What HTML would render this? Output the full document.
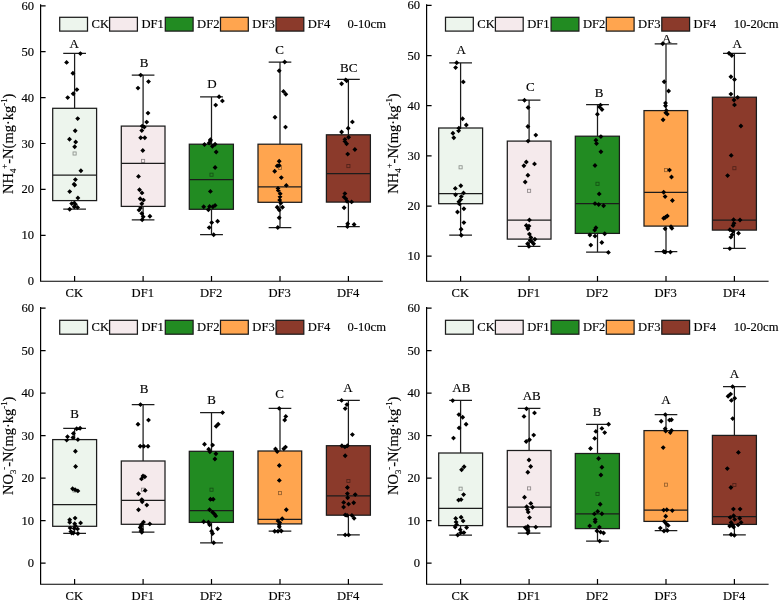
<!DOCTYPE html>
<html lang="en">
<head>
<meta charset="utf-8">
<title>Box plots of NH4+-N and NO3--N by treatment and depth</title>
<style>
html,body{margin:0;padding:0;background:#fff;}
body{width:779px;height:601px;overflow:hidden;}
svg{display:block;}
svg text{font-family:"Liberation Serif", "Times New Roman", serif;font-size:12.6px;fill:#000;stroke:#000;stroke-width:0.15px;}
svg text.t{font-size:12.6px;}
svg text.L{font-size:13px;}
</style>
</head>
<body>
<svg width="779" height="601" viewBox="0 0 779 601">
<rect x="0" y="0" width="779" height="601" fill="#fff"/>
<g><path d="M74.6 53.4V108.3M74.6 200.6V209.1M63.23 53.4H85.97M63.23 209.1H85.97" stroke="#1c1c1c" stroke-width="1.25" fill="none"/>
<rect x="52.7" y="108.3" width="43.9" height="92.3" fill="#EDF5ED" stroke="#1c1c1c" stroke-width="1.25"/>
<path d="M52.7 175.1H96.6" stroke="#1c1c1c" stroke-width="1.25" fill="none"/>
<rect x="73.05" y="151.95" width="3.1" height="3.1" fill="none" stroke="#000" stroke-opacity="0.42" stroke-width="0.85"/>
<path d="M143.1 75.1V126.1M143.1 206.4V219.8M131.77 75.1H154.43M131.77 219.8H154.43" stroke="#1c1c1c" stroke-width="1.25" fill="none"/>
<rect x="121.3" y="126.1" width="43.7" height="80.3" fill="#F5EAEC" stroke="#1c1c1c" stroke-width="1.25"/>
<path d="M121.3 163.4H165" stroke="#1c1c1c" stroke-width="1.25" fill="none"/>
<rect x="141.55" y="159.35" width="3.1" height="3.1" fill="none" stroke="#000" stroke-opacity="0.42" stroke-width="0.85"/>
<path d="M211.5 96.8V144.2M211.5 209.3V234.7M200.07 96.8H222.93M200.07 234.7H222.93" stroke="#1c1c1c" stroke-width="1.25" fill="none"/>
<rect x="189.3" y="144.2" width="44.1" height="65.1" fill="#228B22" stroke="#1c1c1c" stroke-width="1.25"/>
<path d="M189.3 179.6H233.4" stroke="#1c1c1c" stroke-width="1.25" fill="none"/>
<rect x="209.95" y="173.15" width="3.1" height="3.1" fill="none" stroke="#000" stroke-opacity="0.42" stroke-width="0.85"/>
<path d="M280 62V144.2M280 202.3V227.5M268.68 62H291.32M268.68 227.5H291.32" stroke="#1c1c1c" stroke-width="1.25" fill="none"/>
<rect x="258" y="144.2" width="43.7" height="58.1" fill="#FFA54F" stroke="#1c1c1c" stroke-width="1.25"/>
<path d="M258 186.9H301.7" stroke="#1c1c1c" stroke-width="1.25" fill="none"/>
<rect x="278.45" y="166.35" width="3.1" height="3.1" fill="none" stroke="#000" stroke-opacity="0.42" stroke-width="0.85"/>
<path d="M348.4 79.4V134.8M348.4 202.1V226.5M337 79.4H359.8M337 226.5H359.8" stroke="#1c1c1c" stroke-width="1.25" fill="none"/>
<rect x="326.4" y="134.8" width="44" height="67.3" fill="#8B3A2B" stroke="#1c1c1c" stroke-width="1.25"/>
<path d="M326.4 173.6H370.4" stroke="#1c1c1c" stroke-width="1.25" fill="none"/>
<rect x="346.85" y="164.55" width="3.1" height="3.1" fill="none" stroke="#000" stroke-opacity="0.42" stroke-width="0.85"/>
<path d="M80.4 51.15l2.45 2.45l-2.45 2.45l-2.45 -2.45zM66.6 59.95l2.45 2.45l-2.45 2.45l-2.45 -2.45zM72.9 70.75l2.45 2.45l-2.45 2.45l-2.45 -2.45zM76.9 87.15l2.45 2.45l-2.45 2.45l-2.45 -2.45zM73.2 91.35l2.45 2.45l-2.45 2.45l-2.45 -2.45zM67.7 95.15l2.45 2.45l-2.45 2.45l-2.45 -2.45zM77.7 116.15l2.45 2.45l-2.45 2.45l-2.45 -2.45zM75.2 128.25l2.45 2.45l-2.45 2.45l-2.45 -2.45zM69.5 136.85l2.45 2.45l-2.45 2.45l-2.45 -2.45zM75.7 139.55l2.45 2.45l-2.45 2.45l-2.45 -2.45zM74.7 144.25l2.45 2.45l-2.45 2.45l-2.45 -2.45zM80.9 168.25l2.45 2.45l-2.45 2.45l-2.45 -2.45zM75.4 177.15l2.45 2.45l-2.45 2.45l-2.45 -2.45zM74.1 181.75l2.45 2.45l-2.45 2.45l-2.45 -2.45zM74.7 182.65l2.45 2.45l-2.45 2.45l-2.45 -2.45zM69.7 189.15l2.45 2.45l-2.45 2.45l-2.45 -2.45zM77.9 195.45l2.45 2.45l-2.45 2.45l-2.45 -2.45zM71.7 201.15l2.45 2.45l-2.45 2.45l-2.45 -2.45zM74.2 200.65l2.45 2.45l-2.45 2.45l-2.45 -2.45zM75.4 201.85l2.45 2.45l-2.45 2.45l-2.45 -2.45zM77.6 204.95l2.45 2.45l-2.45 2.45l-2.45 -2.45zM74.2 204.35l2.45 2.45l-2.45 2.45l-2.45 -2.45zM69.7 206.85l2.45 2.45l-2.45 2.45l-2.45 -2.45zM140.7 72.65l2.45 2.45l-2.45 2.45l-2.45 -2.45zM148.5 79.15l2.45 2.45l-2.45 2.45l-2.45 -2.45zM138 85.65l2.45 2.45l-2.45 2.45l-2.45 -2.45zM148 110.65l2.45 2.45l-2.45 2.45l-2.45 -2.45zM146.7 119.65l2.45 2.45l-2.45 2.45l-2.45 -2.45zM142.2 123.65l2.45 2.45l-2.45 2.45l-2.45 -2.45zM144.3 124.65l2.45 2.45l-2.45 2.45l-2.45 -2.45zM141.8 128.05l2.45 2.45l-2.45 2.45l-2.45 -2.45zM140.7 135.25l2.45 2.45l-2.45 2.45l-2.45 -2.45zM144.8 135.25l2.45 2.45l-2.45 2.45l-2.45 -2.45zM142.8 148.05l2.45 2.45l-2.45 2.45l-2.45 -2.45zM138.5 173.95l2.45 2.45l-2.45 2.45l-2.45 -2.45zM139.5 187.25l2.45 2.45l-2.45 2.45l-2.45 -2.45zM142 190.45l2.45 2.45l-2.45 2.45l-2.45 -2.45zM140.2 196.35l2.45 2.45l-2.45 2.45l-2.45 -2.45zM143.5 197.65l2.45 2.45l-2.45 2.45l-2.45 -2.45zM141.8 201.35l2.45 2.45l-2.45 2.45l-2.45 -2.45zM140.5 205.65l2.45 2.45l-2.45 2.45l-2.45 -2.45zM139 207.65l2.45 2.45l-2.45 2.45l-2.45 -2.45zM141.8 211.05l2.45 2.45l-2.45 2.45l-2.45 -2.45zM143.2 214.35l2.45 2.45l-2.45 2.45l-2.45 -2.45zM149.9 213.85l2.45 2.45l-2.45 2.45l-2.45 -2.45zM142.2 217.35l2.45 2.45l-2.45 2.45l-2.45 -2.45zM219.1 94.35l2.45 2.45l-2.45 2.45l-2.45 -2.45zM222.4 98.45l2.45 2.45l-2.45 2.45l-2.45 -2.45zM215.7 102.65l2.45 2.45l-2.45 2.45l-2.45 -2.45zM210.4 137.35l2.45 2.45l-2.45 2.45l-2.45 -2.45zM204.5 142.05l2.45 2.45l-2.45 2.45l-2.45 -2.45zM209.1 140.55l2.45 2.45l-2.45 2.45l-2.45 -2.45zM210.4 138.35l2.45 2.45l-2.45 2.45l-2.45 -2.45zM212.4 143.85l2.45 2.45l-2.45 2.45l-2.45 -2.45zM215.1 141.75l2.45 2.45l-2.45 2.45l-2.45 -2.45zM216.2 149.55l2.45 2.45l-2.45 2.45l-2.45 -2.45zM215.1 165.05l2.45 2.45l-2.45 2.45l-2.45 -2.45zM210.4 188.95l2.45 2.45l-2.45 2.45l-2.45 -2.45zM203.7 204.35l2.45 2.45l-2.45 2.45l-2.45 -2.45zM209.6 203.95l2.45 2.45l-2.45 2.45l-2.45 -2.45zM208.4 207.35l2.45 2.45l-2.45 2.45l-2.45 -2.45zM212.9 204.35l2.45 2.45l-2.45 2.45l-2.45 -2.45zM215.1 202.95l2.45 2.45l-2.45 2.45l-2.45 -2.45zM217.6 218.85l2.45 2.45l-2.45 2.45l-2.45 -2.45zM211.7 220.15l2.45 2.45l-2.45 2.45l-2.45 -2.45zM209.2 225.15l2.45 2.45l-2.45 2.45l-2.45 -2.45zM213.7 232.25l2.45 2.45l-2.45 2.45l-2.45 -2.45zM284.7 59.55l2.45 2.45l-2.45 2.45l-2.45 -2.45zM279.2 68.25l2.45 2.45l-2.45 2.45l-2.45 -2.45zM283.5 88.95l2.45 2.45l-2.45 2.45l-2.45 -2.45zM285.8 91.85l2.45 2.45l-2.45 2.45l-2.45 -2.45zM275 114.85l2.45 2.45l-2.45 2.45l-2.45 -2.45zM285.5 124.65l2.45 2.45l-2.45 2.45l-2.45 -2.45zM279.2 158.75l2.45 2.45l-2.45 2.45l-2.45 -2.45zM277.2 163.45l2.45 2.45l-2.45 2.45l-2.45 -2.45zM279.2 162.95l2.45 2.45l-2.45 2.45l-2.45 -2.45zM274.7 168.75l2.45 2.45l-2.45 2.45l-2.45 -2.45zM281.3 175.15l2.45 2.45l-2.45 2.45l-2.45 -2.45zM286.3 182.95l2.45 2.45l-2.45 2.45l-2.45 -2.45zM278 185.95l2.45 2.45l-2.45 2.45l-2.45 -2.45zM278.3 187.95l2.45 2.45l-2.45 2.45l-2.45 -2.45zM280.2 191.35l2.45 2.45l-2.45 2.45l-2.45 -2.45zM280 194.35l2.45 2.45l-2.45 2.45l-2.45 -2.45zM279.7 197.65l2.45 2.45l-2.45 2.45l-2.45 -2.45zM280.8 200.65l2.45 2.45l-2.45 2.45l-2.45 -2.45zM277.2 204.85l2.45 2.45l-2.45 2.45l-2.45 -2.45zM282.5 204.85l2.45 2.45l-2.45 2.45l-2.45 -2.45zM279.3 207.65l2.45 2.45l-2.45 2.45l-2.45 -2.45zM279.2 215.35l2.45 2.45l-2.45 2.45l-2.45 -2.45zM277.8 225.05l2.45 2.45l-2.45 2.45l-2.45 -2.45zM345.7 77.45l2.45 2.45l-2.45 2.45l-2.45 -2.45zM346.6 78.35l2.45 2.45l-2.45 2.45l-2.45 -2.45zM341.6 81.35l2.45 2.45l-2.45 2.45l-2.45 -2.45zM352.4 119.45l2.45 2.45l-2.45 2.45l-2.45 -2.45zM348.2 125.75l2.45 2.45l-2.45 2.45l-2.45 -2.45zM341.6 129.55l2.45 2.45l-2.45 2.45l-2.45 -2.45zM348.6 134.85l2.45 2.45l-2.45 2.45l-2.45 -2.45zM344.9 137.05l2.45 2.45l-2.45 2.45l-2.45 -2.45zM344.9 138.85l2.45 2.45l-2.45 2.45l-2.45 -2.45zM346.6 141.25l2.45 2.45l-2.45 2.45l-2.45 -2.45zM354.9 147.05l2.45 2.45l-2.45 2.45l-2.45 -2.45zM347.7 151.65l2.45 2.45l-2.45 2.45l-2.45 -2.45zM344.9 191.15l2.45 2.45l-2.45 2.45l-2.45 -2.45zM344.1 194.65l2.45 2.45l-2.45 2.45l-2.45 -2.45zM345.7 196.15l2.45 2.45l-2.45 2.45l-2.45 -2.45zM347.1 198.75l2.45 2.45l-2.45 2.45l-2.45 -2.45zM351.6 199.45l2.45 2.45l-2.45 2.45l-2.45 -2.45zM344.1 205.25l2.45 2.45l-2.45 2.45l-2.45 -2.45zM347.7 221.25l2.45 2.45l-2.45 2.45l-2.45 -2.45zM354.1 222.05l2.45 2.45l-2.45 2.45l-2.45 -2.45zM347.4 224.05l2.45 2.45l-2.45 2.45l-2.45 -2.45z" fill="#000"/>
<path d="M40.6 4.9V281.25H382.2" stroke="#000" stroke-width="1.2" fill="none" stroke-linecap="square"/>
<path d="M40.6 235.3h5M40.6 189.4h5M40.6 143.5h5M40.6 97.6h5M40.6 51.7h5M40.6 5.8h5M74.6 281.25v-5.3M143.1 281.25v-5.3M211.5 281.25v-5.3M280 281.25v-5.3M348.4 281.25v-5.3" stroke="#000" stroke-width="1.2" fill="none"/>
<text x="34" y="285.25" text-anchor="end" class="t">0</text>
<text x="34" y="239.3" text-anchor="end" class="t">10</text>
<text x="34" y="193.4" text-anchor="end" class="t">20</text>
<text x="34" y="147.5" text-anchor="end" class="t">30</text>
<text x="34" y="101.6" text-anchor="end" class="t">40</text>
<text x="34" y="55.7" text-anchor="end" class="t">50</text>
<text x="34" y="9.8" text-anchor="end" class="t">60</text>
<text x="74.3" y="297.45" text-anchor="middle" class="t">CK</text>
<text x="142.8" y="297.45" text-anchor="middle" class="t">DF1</text>
<text x="211.2" y="297.45" text-anchor="middle" class="t">DF2</text>
<text x="279.7" y="297.45" text-anchor="middle" class="t">DF3</text>
<text x="348.1" y="297.45" text-anchor="middle" class="t">DF4</text>
<text x="74.2" y="47.8" text-anchor="middle" class="L">A</text>
<text x="144" y="66.5" text-anchor="middle" class="L">B</text>
<text x="212" y="87.9" text-anchor="middle" class="L">D</text>
<text x="279.7" y="54.2" text-anchor="middle" class="L">C</text>
<text x="348.7" y="72.4" text-anchor="middle" class="L">BC</text>
<rect x="59.7" y="17.3" width="27.8" height="13.8" fill="#EDF5ED" stroke="#1c1c1c" stroke-width="1.25"/>
<text x="91.5" y="28">CK</text>
<rect x="109.6" y="17.3" width="27.8" height="13.8" fill="#F5EAEC" stroke="#1c1c1c" stroke-width="1.25"/>
<text x="141.4" y="28">DF1</text>
<rect x="165.3" y="17.3" width="27.8" height="13.8" fill="#228B22" stroke="#1c1c1c" stroke-width="1.25"/>
<text x="197.1" y="28">DF2</text>
<rect x="220.5" y="17.3" width="27.8" height="13.8" fill="#FFA54F" stroke="#1c1c1c" stroke-width="1.25"/>
<text x="252.3" y="28">DF3</text>
<rect x="276" y="17.3" width="27.8" height="13.8" fill="#8B3A2B" stroke="#1c1c1c" stroke-width="1.25"/>
<text x="307.8" y="28">DF4</text>
<text x="347.5" y="28" >0-10cm</text>
<text transform="translate(13,143.8) rotate(-90)" text-anchor="middle" style="font-size:14.5px">NH<tspan font-size="8.7" dy="3.2">4</tspan><tspan font-size="8.7" dy="-9.2">+</tspan><tspan dy="6">-N(mg·kg</tspan><tspan font-size="8.7" dy="-6">-1</tspan><tspan dy="6">)</tspan></text></g>
<g><path d="M460.6 62.8V128M460.6 203.7V235.2M449.23 62.8H471.98M449.23 235.2H471.98" stroke="#1c1c1c" stroke-width="1.25" fill="none"/>
<rect x="438.7" y="128" width="43.9" height="75.7" fill="#EDF5ED" stroke="#1c1c1c" stroke-width="1.25"/>
<path d="M438.7 193.5H482.6" stroke="#1c1c1c" stroke-width="1.25" fill="none"/>
<rect x="459.05" y="165.75" width="3.1" height="3.1" fill="none" stroke="#000" stroke-opacity="0.42" stroke-width="0.85"/>
<path d="M529.1 100.2V141.1M529.1 239.1V246.4M517.78 100.2H540.42M517.78 246.4H540.42" stroke="#1c1c1c" stroke-width="1.25" fill="none"/>
<rect x="507.3" y="141.1" width="43.7" height="98" fill="#F5EAEC" stroke="#1c1c1c" stroke-width="1.25"/>
<path d="M507.3 220H551" stroke="#1c1c1c" stroke-width="1.25" fill="none"/>
<rect x="527.55" y="189.25" width="3.1" height="3.1" fill="none" stroke="#000" stroke-opacity="0.42" stroke-width="0.85"/>
<path d="M597.5 104.7V136.2M597.5 233.4V252.2M586.08 104.7H608.92M586.08 252.2H608.92" stroke="#1c1c1c" stroke-width="1.25" fill="none"/>
<rect x="575.3" y="136.2" width="44.1" height="97.2" fill="#228B22" stroke="#1c1c1c" stroke-width="1.25"/>
<path d="M575.3 203.6H619.4" stroke="#1c1c1c" stroke-width="1.25" fill="none"/>
<rect x="595.95" y="182.25" width="3.1" height="3.1" fill="none" stroke="#000" stroke-opacity="0.42" stroke-width="0.85"/>
<path d="M666 43.8V110.6M666 226.1V251.7M654.68 43.8H677.32M654.68 251.7H677.32" stroke="#1c1c1c" stroke-width="1.25" fill="none"/>
<rect x="644" y="110.6" width="43.7" height="115.5" fill="#FFA54F" stroke="#1c1c1c" stroke-width="1.25"/>
<path d="M644 192.4H687.7" stroke="#1c1c1c" stroke-width="1.25" fill="none"/>
<rect x="664.45" y="168.55" width="3.1" height="3.1" fill="none" stroke="#000" stroke-opacity="0.42" stroke-width="0.85"/>
<path d="M734.4 53.3V97.2M734.4 230.1V248.4M723 53.3H745.8M723 248.4H745.8" stroke="#1c1c1c" stroke-width="1.25" fill="none"/>
<rect x="712.4" y="97.2" width="44" height="132.9" fill="#8B3A2B" stroke="#1c1c1c" stroke-width="1.25"/>
<path d="M712.4 220H756.4" stroke="#1c1c1c" stroke-width="1.25" fill="none"/>
<rect x="732.85" y="166.65" width="3.1" height="3.1" fill="none" stroke="#000" stroke-opacity="0.42" stroke-width="0.85"/>
<path d="M456.7 60.35l2.45 2.45l-2.45 2.45l-2.45 -2.45zM455.6 65.15l2.45 2.45l-2.45 2.45l-2.45 -2.45zM463.3 79.45l2.45 2.45l-2.45 2.45l-2.45 -2.45zM462.6 116.35l2.45 2.45l-2.45 2.45l-2.45 -2.45zM466.3 122.55l2.45 2.45l-2.45 2.45l-2.45 -2.45zM458.9 125.85l2.45 2.45l-2.45 2.45l-2.45 -2.45zM458.6 128.25l2.45 2.45l-2.45 2.45l-2.45 -2.45zM452.9 130.85l2.45 2.45l-2.45 2.45l-2.45 -2.45zM453.8 135.25l2.45 2.45l-2.45 2.45l-2.45 -2.45zM460.8 183.35l2.45 2.45l-2.45 2.45l-2.45 -2.45zM455.3 185.95l2.45 2.45l-2.45 2.45l-2.45 -2.45zM463.5 190.55l2.45 2.45l-2.45 2.45l-2.45 -2.45zM455.6 192.35l2.45 2.45l-2.45 2.45l-2.45 -2.45zM461.3 194.15l2.45 2.45l-2.45 2.45l-2.45 -2.45zM460.8 196.95l2.45 2.45l-2.45 2.45l-2.45 -2.45zM458.9 199.25l2.45 2.45l-2.45 2.45l-2.45 -2.45zM459.5 201.45l2.45 2.45l-2.45 2.45l-2.45 -2.45zM463.9 206.25l2.45 2.45l-2.45 2.45l-2.45 -2.45zM457.5 209.55l2.45 2.45l-2.45 2.45l-2.45 -2.45zM463.9 220.15l2.45 2.45l-2.45 2.45l-2.45 -2.45zM461.1 226.75l2.45 2.45l-2.45 2.45l-2.45 -2.45zM461.3 232.75l2.45 2.45l-2.45 2.45l-2.45 -2.45zM524.5 97.75l2.45 2.45l-2.45 2.45l-2.45 -2.45zM528.1 105.05l2.45 2.45l-2.45 2.45l-2.45 -2.45zM527.9 124.05l2.45 2.45l-2.45 2.45l-2.45 -2.45zM535.8 132.65l2.45 2.45l-2.45 2.45l-2.45 -2.45zM528.1 138.65l2.45 2.45l-2.45 2.45l-2.45 -2.45zM526.3 159.55l2.45 2.45l-2.45 2.45l-2.45 -2.45zM534.5 161.45l2.45 2.45l-2.45 2.45l-2.45 -2.45zM523.9 163.25l2.45 2.45l-2.45 2.45l-2.45 -2.45zM527.9 172.75l2.45 2.45l-2.45 2.45l-2.45 -2.45zM525.2 179.55l2.45 2.45l-2.45 2.45l-2.45 -2.45zM529.4 217.55l2.45 2.45l-2.45 2.45l-2.45 -2.45zM526.3 223.05l2.45 2.45l-2.45 2.45l-2.45 -2.45zM529 223.65l2.45 2.45l-2.45 2.45l-2.45 -2.45zM527.9 226.35l2.45 2.45l-2.45 2.45l-2.45 -2.45zM529.4 231.65l2.45 2.45l-2.45 2.45l-2.45 -2.45zM530.9 234.95l2.45 2.45l-2.45 2.45l-2.45 -2.45zM534.9 236.85l2.45 2.45l-2.45 2.45l-2.45 -2.45zM530.3 238.05l2.45 2.45l-2.45 2.45l-2.45 -2.45zM532.1 239.55l2.45 2.45l-2.45 2.45l-2.45 -2.45zM527.6 241.35l2.45 2.45l-2.45 2.45l-2.45 -2.45zM533.6 241.35l2.45 2.45l-2.45 2.45l-2.45 -2.45zM528.9 243.95l2.45 2.45l-2.45 2.45l-2.45 -2.45zM600.5 102.65l2.45 2.45l-2.45 2.45l-2.45 -2.45zM599.6 104.45l2.45 2.45l-2.45 2.45l-2.45 -2.45zM602 107.05l2.45 2.45l-2.45 2.45l-2.45 -2.45zM597.4 111.75l2.45 2.45l-2.45 2.45l-2.45 -2.45zM600.9 134.15l2.45 2.45l-2.45 2.45l-2.45 -2.45zM595.9 137.75l2.45 2.45l-2.45 2.45l-2.45 -2.45zM596.5 141.05l2.45 2.45l-2.45 2.45l-2.45 -2.45zM600.9 149.35l2.45 2.45l-2.45 2.45l-2.45 -2.45zM595 163.05l2.45 2.45l-2.45 2.45l-2.45 -2.45zM599.2 191.45l2.45 2.45l-2.45 2.45l-2.45 -2.45zM595 201.15l2.45 2.45l-2.45 2.45l-2.45 -2.45zM598.7 202.05l2.45 2.45l-2.45 2.45l-2.45 -2.45zM603.6 203.35l2.45 2.45l-2.45 2.45l-2.45 -2.45zM595.9 225.25l2.45 2.45l-2.45 2.45l-2.45 -2.45zM594.7 227.65l2.45 2.45l-2.45 2.45l-2.45 -2.45zM589.9 232.55l2.45 2.45l-2.45 2.45l-2.45 -2.45zM595 233.65l2.45 2.45l-2.45 2.45l-2.45 -2.45zM604.7 231.35l2.45 2.45l-2.45 2.45l-2.45 -2.45zM601.8 240.05l2.45 2.45l-2.45 2.45l-2.45 -2.45zM590.8 242.65l2.45 2.45l-2.45 2.45l-2.45 -2.45zM608.4 249.95l2.45 2.45l-2.45 2.45l-2.45 -2.45zM662.7 41.35l2.45 2.45l-2.45 2.45l-2.45 -2.45zM664.2 79.25l2.45 2.45l-2.45 2.45l-2.45 -2.45zM668.6 88.55l2.45 2.45l-2.45 2.45l-2.45 -2.45zM665.5 100.65l2.45 2.45l-2.45 2.45l-2.45 -2.45zM665.5 103.35l2.45 2.45l-2.45 2.45l-2.45 -2.45zM666.4 108.15l2.45 2.45l-2.45 2.45l-2.45 -2.45zM667.3 111.65l2.45 2.45l-2.45 2.45l-2.45 -2.45zM665.8 110.35l2.45 2.45l-2.45 2.45l-2.45 -2.45zM663.1 117.25l2.45 2.45l-2.45 2.45l-2.45 -2.45zM669.5 167.65l2.45 2.45l-2.45 2.45l-2.45 -2.45zM671.5 174.55l2.45 2.45l-2.45 2.45l-2.45 -2.45zM663.7 189.75l2.45 2.45l-2.45 2.45l-2.45 -2.45zM665.1 194.15l2.45 2.45l-2.45 2.45l-2.45 -2.45zM672.4 198.05l2.45 2.45l-2.45 2.45l-2.45 -2.45zM663.7 215.75l2.45 2.45l-2.45 2.45l-2.45 -2.45zM665.5 214.85l2.45 2.45l-2.45 2.45l-2.45 -2.45zM667.3 213.55l2.45 2.45l-2.45 2.45l-2.45 -2.45zM671 224.35l2.45 2.45l-2.45 2.45l-2.45 -2.45zM671.9 225.85l2.45 2.45l-2.45 2.45l-2.45 -2.45zM665.1 226.35l2.45 2.45l-2.45 2.45l-2.45 -2.45zM663.7 249.05l2.45 2.45l-2.45 2.45l-2.45 -2.45zM665.5 249.65l2.45 2.45l-2.45 2.45l-2.45 -2.45zM670.4 249.65l2.45 2.45l-2.45 2.45l-2.45 -2.45zM729 50.85l2.45 2.45l-2.45 2.45l-2.45 -2.45zM731.8 53.05l2.45 2.45l-2.45 2.45l-2.45 -2.45zM730.9 74.25l2.45 2.45l-2.45 2.45l-2.45 -2.45zM734.5 77.05l2.45 2.45l-2.45 2.45l-2.45 -2.45zM730.9 91.65l2.45 2.45l-2.45 2.45l-2.45 -2.45zM737.6 94.95l2.45 2.45l-2.45 2.45l-2.45 -2.45zM734 97.55l2.45 2.45l-2.45 2.45l-2.45 -2.45zM734.5 102.45l2.45 2.45l-2.45 2.45l-2.45 -2.45zM740.9 123.55l2.45 2.45l-2.45 2.45l-2.45 -2.45zM731.2 152.95l2.45 2.45l-2.45 2.45l-2.45 -2.45zM727.6 173.15l2.45 2.45l-2.45 2.45l-2.45 -2.45zM733.6 217.25l2.45 2.45l-2.45 2.45l-2.45 -2.45zM740 217.55l2.45 2.45l-2.45 2.45l-2.45 -2.45zM734 220.85l2.45 2.45l-2.45 2.45l-2.45 -2.45zM733.1 223.05l2.45 2.45l-2.45 2.45l-2.45 -2.45zM729.9 227.25l2.45 2.45l-2.45 2.45l-2.45 -2.45zM733.1 228.95l2.45 2.45l-2.45 2.45l-2.45 -2.45zM738.5 230.75l2.45 2.45l-2.45 2.45l-2.45 -2.45zM732.1 232.25l2.45 2.45l-2.45 2.45l-2.45 -2.45zM730.9 234.65l2.45 2.45l-2.45 2.45l-2.45 -2.45zM729.8 246.15l2.45 2.45l-2.45 2.45l-2.45 -2.45z" fill="#000"/>
<path d="M426.6 4.9V281.25H768" stroke="#000" stroke-width="1.2" fill="none" stroke-linecap="square"/>
<path d="M426.6 256.2h5M426.6 206.05h5M426.6 155.9h5M426.6 105.7h5M426.6 55.55h5M426.6 5.4h5M460.6 281.25v-5.3M529.1 281.25v-5.3M597.5 281.25v-5.3M666 281.25v-5.3M734.4 281.25v-5.3" stroke="#000" stroke-width="1.2" fill="none"/>
<text x="420" y="260.2" text-anchor="end" class="t">10</text>
<text x="420" y="210.05" text-anchor="end" class="t">20</text>
<text x="420" y="159.9" text-anchor="end" class="t">30</text>
<text x="420" y="109.7" text-anchor="end" class="t">40</text>
<text x="420" y="59.55" text-anchor="end" class="t">50</text>
<text x="420" y="9.4" text-anchor="end" class="t">60</text>
<text x="460.3" y="297.45" text-anchor="middle" class="t">CK</text>
<text x="528.8" y="297.45" text-anchor="middle" class="t">DF1</text>
<text x="597.2" y="297.45" text-anchor="middle" class="t">DF2</text>
<text x="665.7" y="297.45" text-anchor="middle" class="t">DF3</text>
<text x="734.1" y="297.45" text-anchor="middle" class="t">DF4</text>
<text x="461.1" y="54.2" text-anchor="middle" class="L">A</text>
<text x="530.3" y="90.6" text-anchor="middle" class="L">C</text>
<text x="599" y="97" text-anchor="middle" class="L">B</text>
<text x="666.8" y="43" text-anchor="middle" class="L">A</text>
<text x="737.1" y="47.7" text-anchor="middle" class="L">A</text>
<rect x="445.5" y="17.3" width="27.8" height="13.8" fill="#EDF5ED" stroke="#1c1c1c" stroke-width="1.25"/>
<text x="477.3" y="28">CK</text>
<rect x="495.4" y="17.3" width="27.8" height="13.8" fill="#F5EAEC" stroke="#1c1c1c" stroke-width="1.25"/>
<text x="527.2" y="28">DF1</text>
<rect x="551.1" y="17.3" width="27.8" height="13.8" fill="#228B22" stroke="#1c1c1c" stroke-width="1.25"/>
<text x="582.9" y="28">DF2</text>
<rect x="606.3" y="17.3" width="27.8" height="13.8" fill="#FFA54F" stroke="#1c1c1c" stroke-width="1.25"/>
<text x="638.1" y="28">DF3</text>
<rect x="661.8" y="17.3" width="27.8" height="13.8" fill="#8B3A2B" stroke="#1c1c1c" stroke-width="1.25"/>
<text x="693.6" y="28">DF4</text>
<text x="733.7" y="28" >10-20cm</text>
<text transform="translate(398,143.5) rotate(-90)" text-anchor="middle" style="font-size:14.5px">NH<tspan font-size="8.7" dy="3.2">4</tspan><tspan font-size="8.7" dy="-9.2">+</tspan><tspan dy="6">-N(mg·kg</tspan><tspan font-size="8.7" dy="-6">-1</tspan><tspan dy="6">)</tspan></text></g>
<g><path d="M74.6 428.3V439.6M74.6 526.3V533.3M63.23 428.3H85.97M63.23 533.3H85.97" stroke="#1c1c1c" stroke-width="1.25" fill="none"/>
<rect x="52.7" y="439.6" width="43.9" height="86.7" fill="#EDF5ED" stroke="#1c1c1c" stroke-width="1.25"/>
<path d="M52.7 504.6H96.6" stroke="#1c1c1c" stroke-width="1.25" fill="none"/>
<rect x="73.05" y="488.95" width="3.1" height="3.1" fill="none" stroke="#000" stroke-opacity="0.42" stroke-width="0.85"/>
<path d="M143.1 404.6V461M143.1 524.3V532.1M131.77 404.6H154.43M131.77 532.1H154.43" stroke="#1c1c1c" stroke-width="1.25" fill="none"/>
<rect x="121.3" y="461" width="43.7" height="63.3" fill="#F5EAEC" stroke="#1c1c1c" stroke-width="1.25"/>
<path d="M121.3 500.4H165" stroke="#1c1c1c" stroke-width="1.25" fill="none"/>
<rect x="141.55" y="488.15" width="3.1" height="3.1" fill="none" stroke="#000" stroke-opacity="0.42" stroke-width="0.85"/>
<path d="M211.5 412.6V451.3M211.5 522.4V542.8M200.07 412.6H222.93M200.07 542.8H222.93" stroke="#1c1c1c" stroke-width="1.25" fill="none"/>
<rect x="189.3" y="451.3" width="44.1" height="71.1" fill="#228B22" stroke="#1c1c1c" stroke-width="1.25"/>
<path d="M189.3 510.6H233.4" stroke="#1c1c1c" stroke-width="1.25" fill="none"/>
<rect x="209.95" y="488.15" width="3.1" height="3.1" fill="none" stroke="#000" stroke-opacity="0.42" stroke-width="0.85"/>
<path d="M280 408.4V451M280 523.9V531.1M268.68 408.4H291.32M268.68 531.1H291.32" stroke="#1c1c1c" stroke-width="1.25" fill="none"/>
<rect x="258" y="451" width="43.7" height="72.9" fill="#FFA54F" stroke="#1c1c1c" stroke-width="1.25"/>
<path d="M258 519.3H301.7" stroke="#1c1c1c" stroke-width="1.25" fill="none"/>
<rect x="278.45" y="491.55" width="3.1" height="3.1" fill="none" stroke="#000" stroke-opacity="0.42" stroke-width="0.85"/>
<path d="M348.4 400.4V445.7M348.4 515.2V534.9M337 400.4H359.8M337 534.9H359.8" stroke="#1c1c1c" stroke-width="1.25" fill="none"/>
<rect x="326.4" y="445.7" width="44" height="69.5" fill="#8B3A2B" stroke="#1c1c1c" stroke-width="1.25"/>
<path d="M326.4 495.9H370.4" stroke="#1c1c1c" stroke-width="1.25" fill="none"/>
<rect x="346.85" y="479.45" width="3.1" height="3.1" fill="none" stroke="#000" stroke-opacity="0.42" stroke-width="0.85"/>
<path d="M80.1 425.85l2.45 2.45l-2.45 2.45l-2.45 -2.45zM76.7 426.35l2.45 2.45l-2.45 2.45l-2.45 -2.45zM73.4 430.95l2.45 2.45l-2.45 2.45l-2.45 -2.45zM67.5 434.35l2.45 2.45l-2.45 2.45l-2.45 -2.45zM72.9 435.15l2.45 2.45l-2.45 2.45l-2.45 -2.45zM66.7 437.65l2.45 2.45l-2.45 2.45l-2.45 -2.45zM77.9 437.15l2.45 2.45l-2.45 2.45l-2.45 -2.45zM75.4 448.85l2.45 2.45l-2.45 2.45l-2.45 -2.45zM75.6 464.05l2.45 2.45l-2.45 2.45l-2.45 -2.45zM72.6 486.25l2.45 2.45l-2.45 2.45l-2.45 -2.45zM75.1 487.25l2.45 2.45l-2.45 2.45l-2.45 -2.45zM77.9 488.45l2.45 2.45l-2.45 2.45l-2.45 -2.45zM75.1 515.65l2.45 2.45l-2.45 2.45l-2.45 -2.45zM69.7 517.35l2.45 2.45l-2.45 2.45l-2.45 -2.45zM69.7 519.85l2.45 2.45l-2.45 2.45l-2.45 -2.45zM80.6 520.45l2.45 2.45l-2.45 2.45l-2.45 -2.45zM74.7 521.35l2.45 2.45l-2.45 2.45l-2.45 -2.45zM75.4 523.45l2.45 2.45l-2.45 2.45l-2.45 -2.45zM70.1 525.45l2.45 2.45l-2.45 2.45l-2.45 -2.45zM74.2 525.95l2.45 2.45l-2.45 2.45l-2.45 -2.45zM77.6 526.45l2.45 2.45l-2.45 2.45l-2.45 -2.45zM70.9 529.05l2.45 2.45l-2.45 2.45l-2.45 -2.45zM73.4 530.55l2.45 2.45l-2.45 2.45l-2.45 -2.45zM77.9 531.05l2.45 2.45l-2.45 2.45l-2.45 -2.45zM71.7 530.55l2.45 2.45l-2.45 2.45l-2.45 -2.45zM140.5 402.15l2.45 2.45l-2.45 2.45l-2.45 -2.45zM148.5 417.65l2.45 2.45l-2.45 2.45l-2.45 -2.45zM138 421.85l2.45 2.45l-2.45 2.45l-2.45 -2.45zM140.2 443.85l2.45 2.45l-2.45 2.45l-2.45 -2.45zM143.8 443.85l2.45 2.45l-2.45 2.45l-2.45 -2.45zM148 443.85l2.45 2.45l-2.45 2.45l-2.45 -2.45zM143 473.45l2.45 2.45l-2.45 2.45l-2.45 -2.45zM144.8 474.25l2.45 2.45l-2.45 2.45l-2.45 -2.45zM141.5 476.45l2.45 2.45l-2.45 2.45l-2.45 -2.45zM145.2 487.95l2.45 2.45l-2.45 2.45l-2.45 -2.45zM138.5 491.25l2.45 2.45l-2.45 2.45l-2.45 -2.45zM141.8 497.15l2.45 2.45l-2.45 2.45l-2.45 -2.45zM142.2 499.25l2.45 2.45l-2.45 2.45l-2.45 -2.45zM146.8 502.65l2.45 2.45l-2.45 2.45l-2.45 -2.45zM138.5 507.25l2.45 2.45l-2.45 2.45l-2.45 -2.45zM143.5 519.65l2.45 2.45l-2.45 2.45l-2.45 -2.45zM149.8 521.45l2.45 2.45l-2.45 2.45l-2.45 -2.45zM141.8 521.85l2.45 2.45l-2.45 2.45l-2.45 -2.45zM141 523.45l2.45 2.45l-2.45 2.45l-2.45 -2.45zM140.2 525.15l2.45 2.45l-2.45 2.45l-2.45 -2.45zM141.5 526.85l2.45 2.45l-2.45 2.45l-2.45 -2.45zM141 528.55l2.45 2.45l-2.45 2.45l-2.45 -2.45zM141.8 529.85l2.45 2.45l-2.45 2.45l-2.45 -2.45zM222.6 410.15l2.45 2.45l-2.45 2.45l-2.45 -2.45zM218.2 421.85l2.45 2.45l-2.45 2.45l-2.45 -2.45zM216.2 423.85l2.45 2.45l-2.45 2.45l-2.45 -2.45zM204.5 441.85l2.45 2.45l-2.45 2.45l-2.45 -2.45zM212.6 442.65l2.45 2.45l-2.45 2.45l-2.45 -2.45zM208.7 446.85l2.45 2.45l-2.45 2.45l-2.45 -2.45zM209.9 449.35l2.45 2.45l-2.45 2.45l-2.45 -2.45zM215.9 451.35l2.45 2.45l-2.45 2.45l-2.45 -2.45zM214.9 456.55l2.45 2.45l-2.45 2.45l-2.45 -2.45zM210.4 496.75l2.45 2.45l-2.45 2.45l-2.45 -2.45zM213.2 496.75l2.45 2.45l-2.45 2.45l-2.45 -2.45zM209.6 507.25l2.45 2.45l-2.45 2.45l-2.45 -2.45zM212.6 509.85l2.45 2.45l-2.45 2.45l-2.45 -2.45zM214.6 511.85l2.45 2.45l-2.45 2.45l-2.45 -2.45zM215.7 513.45l2.45 2.45l-2.45 2.45l-2.45 -2.45zM203.7 519.35l2.45 2.45l-2.45 2.45l-2.45 -2.45zM208.4 519.85l2.45 2.45l-2.45 2.45l-2.45 -2.45zM209.6 522.35l2.45 2.45l-2.45 2.45l-2.45 -2.45zM217.6 526.35l2.45 2.45l-2.45 2.45l-2.45 -2.45zM211.6 528.85l2.45 2.45l-2.45 2.45l-2.45 -2.45zM212.6 531.05l2.45 2.45l-2.45 2.45l-2.45 -2.45zM213.7 540.35l2.45 2.45l-2.45 2.45l-2.45 -2.45zM279.2 405.95l2.45 2.45l-2.45 2.45l-2.45 -2.45zM285.8 413.95l2.45 2.45l-2.45 2.45l-2.45 -2.45zM284.7 417.65l2.45 2.45l-2.45 2.45l-2.45 -2.45zM285.5 444.65l2.45 2.45l-2.45 2.45l-2.45 -2.45zM283.8 446.35l2.45 2.45l-2.45 2.45l-2.45 -2.45zM275.5 446.55l2.45 2.45l-2.45 2.45l-2.45 -2.45zM277.2 449.05l2.45 2.45l-2.45 2.45l-2.45 -2.45zM279.3 463.05l2.45 2.45l-2.45 2.45l-2.45 -2.45zM279.3 477.95l2.45 2.45l-2.45 2.45l-2.45 -2.45zM286.3 507.25l2.45 2.45l-2.45 2.45l-2.45 -2.45zM282.2 516.35l2.45 2.45l-2.45 2.45l-2.45 -2.45zM278 518.45l2.45 2.45l-2.45 2.45l-2.45 -2.45zM279.7 520.15l2.45 2.45l-2.45 2.45l-2.45 -2.45zM279.2 522.35l2.45 2.45l-2.45 2.45l-2.45 -2.45zM279.3 524.35l2.45 2.45l-2.45 2.45l-2.45 -2.45zM274.7 528.85l2.45 2.45l-2.45 2.45l-2.45 -2.45zM278 528.85l2.45 2.45l-2.45 2.45l-2.45 -2.45zM281.3 528.55l2.45 2.45l-2.45 2.45l-2.45 -2.45zM341.6 397.95l2.45 2.45l-2.45 2.45l-2.45 -2.45zM346.9 402.15l2.45 2.45l-2.45 2.45l-2.45 -2.45zM345.2 406.15l2.45 2.45l-2.45 2.45l-2.45 -2.45zM352.4 432.15l2.45 2.45l-2.45 2.45l-2.45 -2.45zM341.9 443.25l2.45 2.45l-2.45 2.45l-2.45 -2.45zM344.9 444.45l2.45 2.45l-2.45 2.45l-2.45 -2.45zM347.4 443.25l2.45 2.45l-2.45 2.45l-2.45 -2.45zM345.2 453.25l2.45 2.45l-2.45 2.45l-2.45 -2.45zM347.4 485.05l2.45 2.45l-2.45 2.45l-2.45 -2.45zM347.4 491.15l2.45 2.45l-2.45 2.45l-2.45 -2.45zM355.2 492.15l2.45 2.45l-2.45 2.45l-2.45 -2.45zM347.7 495.35l2.45 2.45l-2.45 2.45l-2.45 -2.45zM343.7 499.95l2.45 2.45l-2.45 2.45l-2.45 -2.45zM353.7 500.35l2.45 2.45l-2.45 2.45l-2.45 -2.45zM348.6 501.65l2.45 2.45l-2.45 2.45l-2.45 -2.45zM343.6 504.65l2.45 2.45l-2.45 2.45l-2.45 -2.45zM345.2 512.45l2.45 2.45l-2.45 2.45l-2.45 -2.45zM347.1 512.95l2.45 2.45l-2.45 2.45l-2.45 -2.45zM351.9 512.95l2.45 2.45l-2.45 2.45l-2.45 -2.45zM354.1 515.75l2.45 2.45l-2.45 2.45l-2.45 -2.45zM345.2 532.45l2.45 2.45l-2.45 2.45l-2.45 -2.45zM348.6 532.45l2.45 2.45l-2.45 2.45l-2.45 -2.45z" fill="#000"/>
<path d="M40.6 307.5V584.25H382.2" stroke="#000" stroke-width="1.2" fill="none" stroke-linecap="square"/>
<path d="M40.6 563.2h5M40.6 520.7h5M40.6 478.2h5M40.6 435.7h5M40.6 393.2h5M40.6 350.6h5M40.6 308.1h5M74.6 584.25v-5.3M143.1 584.25v-5.3M211.5 584.25v-5.3M280 584.25v-5.3M348.4 584.25v-5.3" stroke="#000" stroke-width="1.2" fill="none"/>
<text x="34" y="567.2" text-anchor="end" class="t">0</text>
<text x="34" y="524.7" text-anchor="end" class="t">10</text>
<text x="34" y="482.2" text-anchor="end" class="t">20</text>
<text x="34" y="439.7" text-anchor="end" class="t">30</text>
<text x="34" y="397.2" text-anchor="end" class="t">40</text>
<text x="34" y="354.6" text-anchor="end" class="t">50</text>
<text x="34" y="312.1" text-anchor="end" class="t">60</text>
<text x="74.3" y="600.45" text-anchor="middle" class="t">CK</text>
<text x="142.8" y="600.45" text-anchor="middle" class="t">DF1</text>
<text x="211.2" y="600.45" text-anchor="middle" class="t">DF2</text>
<text x="279.7" y="600.45" text-anchor="middle" class="t">DF3</text>
<text x="348.1" y="600.45" text-anchor="middle" class="t">DF4</text>
<text x="74.6" y="418.2" text-anchor="middle" class="L">B</text>
<text x="144" y="393.3" text-anchor="middle" class="L">B</text>
<text x="211.7" y="403.7" text-anchor="middle" class="L">B</text>
<text x="279.7" y="398.2" text-anchor="middle" class="L">C</text>
<text x="347.9" y="392.4" text-anchor="middle" class="L">A</text>
<rect x="59.7" y="320.3" width="27.8" height="13.9" fill="#EDF5ED" stroke="#1c1c1c" stroke-width="1.25"/>
<text x="91.5" y="331.1">CK</text>
<rect x="109.6" y="320.3" width="27.8" height="13.9" fill="#F5EAEC" stroke="#1c1c1c" stroke-width="1.25"/>
<text x="141.4" y="331.1">DF1</text>
<rect x="165.3" y="320.3" width="27.8" height="13.9" fill="#228B22" stroke="#1c1c1c" stroke-width="1.25"/>
<text x="197.1" y="331.1">DF2</text>
<rect x="220.5" y="320.3" width="27.8" height="13.9" fill="#FFA54F" stroke="#1c1c1c" stroke-width="1.25"/>
<text x="252.3" y="331.1">DF3</text>
<rect x="276" y="320.3" width="27.8" height="13.9" fill="#8B3A2B" stroke="#1c1c1c" stroke-width="1.25"/>
<text x="307.8" y="331.1">DF4</text>
<text x="347.5" y="331.1" >0-10cm</text>
<text transform="translate(13,445.8) rotate(-90)" text-anchor="middle" style="font-size:14.5px">NO<tspan font-size="8.7" dy="3.2">3</tspan><tspan font-size="8.7" dy="-9.2">-</tspan><tspan dy="6">-N(mg·kg</tspan><tspan font-size="8.7" dy="-6">-1</tspan><tspan dy="6">)</tspan></text></g>
<g><path d="M460.6 400.4V453M460.6 525.6V535M449.23 400.4H471.98M449.23 535H471.98" stroke="#1c1c1c" stroke-width="1.25" fill="none"/>
<rect x="438.7" y="453" width="43.9" height="72.6" fill="#EDF5ED" stroke="#1c1c1c" stroke-width="1.25"/>
<path d="M438.7 508.4H482.6" stroke="#1c1c1c" stroke-width="1.25" fill="none"/>
<rect x="459.05" y="487.15" width="3.1" height="3.1" fill="none" stroke="#000" stroke-opacity="0.42" stroke-width="0.85"/>
<path d="M529.1 408.4V450.5M529.1 526.8V533M517.78 408.4H540.42M517.78 533H540.42" stroke="#1c1c1c" stroke-width="1.25" fill="none"/>
<rect x="507.3" y="450.5" width="43.7" height="76.3" fill="#F5EAEC" stroke="#1c1c1c" stroke-width="1.25"/>
<path d="M507.3 507.1H551" stroke="#1c1c1c" stroke-width="1.25" fill="none"/>
<rect x="527.55" y="486.85" width="3.1" height="3.1" fill="none" stroke="#000" stroke-opacity="0.42" stroke-width="0.85"/>
<path d="M597.5 424.3V453.5M597.5 528.6V541.1M586.08 424.3H608.92M586.08 541.1H608.92" stroke="#1c1c1c" stroke-width="1.25" fill="none"/>
<rect x="575.3" y="453.5" width="44.1" height="75.1" fill="#228B22" stroke="#1c1c1c" stroke-width="1.25"/>
<path d="M575.3 513.8H619.4" stroke="#1c1c1c" stroke-width="1.25" fill="none"/>
<rect x="595.95" y="492.35" width="3.1" height="3.1" fill="none" stroke="#000" stroke-opacity="0.42" stroke-width="0.85"/>
<path d="M666 414.6V430.6M666 521.4V530.6M654.68 414.6H677.32M654.68 530.6H677.32" stroke="#1c1c1c" stroke-width="1.25" fill="none"/>
<rect x="644" y="430.6" width="43.7" height="90.8" fill="#FFA54F" stroke="#1c1c1c" stroke-width="1.25"/>
<path d="M644 510.1H687.7" stroke="#1c1c1c" stroke-width="1.25" fill="none"/>
<rect x="664.45" y="483.15" width="3.1" height="3.1" fill="none" stroke="#000" stroke-opacity="0.42" stroke-width="0.85"/>
<path d="M734.4 386.6V435.4M734.4 524.4V534.9M723 386.6H745.8M723 534.9H745.8" stroke="#1c1c1c" stroke-width="1.25" fill="none"/>
<rect x="712.4" y="435.4" width="44" height="89" fill="#8B3A2B" stroke="#1c1c1c" stroke-width="1.25"/>
<path d="M712.4 516.6H756.4" stroke="#1c1c1c" stroke-width="1.25" fill="none"/>
<rect x="732.85" y="483.45" width="3.1" height="3.1" fill="none" stroke="#000" stroke-opacity="0.42" stroke-width="0.85"/>
<path d="M452.7 398.15l2.45 2.45l-2.45 2.45l-2.45 -2.45zM458.9 412.15l2.45 2.45l-2.45 2.45l-2.45 -2.45zM462.7 414.75l2.45 2.45l-2.45 2.45l-2.45 -2.45zM466.1 421.85l2.45 2.45l-2.45 2.45l-2.45 -2.45zM459.1 425.45l2.45 2.45l-2.45 2.45l-2.45 -2.45zM453.5 435.65l2.45 2.45l-2.45 2.45l-2.45 -2.45zM464.1 464.35l2.45 2.45l-2.45 2.45l-2.45 -2.45zM461.6 467.25l2.45 2.45l-2.45 2.45l-2.45 -2.45zM463.6 492.15l2.45 2.45l-2.45 2.45l-2.45 -2.45zM458.6 497.65l2.45 2.45l-2.45 2.45l-2.45 -2.45zM461.1 497.15l2.45 2.45l-2.45 2.45l-2.45 -2.45zM461.1 514.85l2.45 2.45l-2.45 2.45l-2.45 -2.45zM455.7 515.95l2.45 2.45l-2.45 2.45l-2.45 -2.45zM463.1 518.45l2.45 2.45l-2.45 2.45l-2.45 -2.45zM456.1 519.65l2.45 2.45l-2.45 2.45l-2.45 -2.45zM456.6 522.15l2.45 2.45l-2.45 2.45l-2.45 -2.45zM455.2 524.65l2.45 2.45l-2.45 2.45l-2.45 -2.45zM466.6 525.15l2.45 2.45l-2.45 2.45l-2.45 -2.45zM460.2 527.35l2.45 2.45l-2.45 2.45l-2.45 -2.45zM463.9 530.15l2.45 2.45l-2.45 2.45l-2.45 -2.45zM460.7 530.15l2.45 2.45l-2.45 2.45l-2.45 -2.45zM457.7 532.55l2.45 2.45l-2.45 2.45l-2.45 -2.45zM526.5 406.25l2.45 2.45l-2.45 2.45l-2.45 -2.45zM534.5 410.45l2.45 2.45l-2.45 2.45l-2.45 -2.45zM524 413.95l2.45 2.45l-2.45 2.45l-2.45 -2.45zM533.7 432.65l2.45 2.45l-2.45 2.45l-2.45 -2.45zM529.5 437.35l2.45 2.45l-2.45 2.45l-2.45 -2.45zM526.2 439.05l2.45 2.45l-2.45 2.45l-2.45 -2.45zM529 457.55l2.45 2.45l-2.45 2.45l-2.45 -2.45zM530.7 464.05l2.45 2.45l-2.45 2.45l-2.45 -2.45zM527.8 469.75l2.45 2.45l-2.45 2.45l-2.45 -2.45zM524.5 494.75l2.45 2.45l-2.45 2.45l-2.45 -2.45zM530.8 500.95l2.45 2.45l-2.45 2.45l-2.45 -2.45zM526.7 504.25l2.45 2.45l-2.45 2.45l-2.45 -2.45zM532.5 504.75l2.45 2.45l-2.45 2.45l-2.45 -2.45zM527.5 507.15l2.45 2.45l-2.45 2.45l-2.45 -2.45zM528.2 509.65l2.45 2.45l-2.45 2.45l-2.45 -2.45zM529.5 515.15l2.45 2.45l-2.45 2.45l-2.45 -2.45zM527.8 523.95l2.45 2.45l-2.45 2.45l-2.45 -2.45zM525.3 525.15l2.45 2.45l-2.45 2.45l-2.45 -2.45zM535.8 524.65l2.45 2.45l-2.45 2.45l-2.45 -2.45zM527 526.85l2.45 2.45l-2.45 2.45l-2.45 -2.45zM528.2 528.45l2.45 2.45l-2.45 2.45l-2.45 -2.45zM527.8 530.55l2.45 2.45l-2.45 2.45l-2.45 -2.45zM608.6 421.85l2.45 2.45l-2.45 2.45l-2.45 -2.45zM601.9 425.95l2.45 2.45l-2.45 2.45l-2.45 -2.45zM595.9 428.95l2.45 2.45l-2.45 2.45l-2.45 -2.45zM604.7 430.15l2.45 2.45l-2.45 2.45l-2.45 -2.45zM594.7 435.95l2.45 2.45l-2.45 2.45l-2.45 -2.45zM590.5 446.05l2.45 2.45l-2.45 2.45l-2.45 -2.45zM598.6 456.05l2.45 2.45l-2.45 2.45l-2.45 -2.45zM601.9 464.75l2.45 2.45l-2.45 2.45l-2.45 -2.45zM600.9 472.55l2.45 2.45l-2.45 2.45l-2.45 -2.45zM600.2 501.75l2.45 2.45l-2.45 2.45l-2.45 -2.45zM597.7 508.95l2.45 2.45l-2.45 2.45l-2.45 -2.45zM594.4 511.45l2.45 2.45l-2.45 2.45l-2.45 -2.45zM601.9 511.35l2.45 2.45l-2.45 2.45l-2.45 -2.45zM595.2 517.15l2.45 2.45l-2.45 2.45l-2.45 -2.45zM595.2 519.35l2.45 2.45l-2.45 2.45l-2.45 -2.45zM589.7 523.45l2.45 2.45l-2.45 2.45l-2.45 -2.45zM599.4 524.65l2.45 2.45l-2.45 2.45l-2.45 -2.45zM596.9 528.45l2.45 2.45l-2.45 2.45l-2.45 -2.45zM600.6 529.65l2.45 2.45l-2.45 2.45l-2.45 -2.45zM603.6 530.55l2.45 2.45l-2.45 2.45l-2.45 -2.45zM599.7 538.65l2.45 2.45l-2.45 2.45l-2.45 -2.45zM665.3 412.15l2.45 2.45l-2.45 2.45l-2.45 -2.45zM661.2 418.85l2.45 2.45l-2.45 2.45l-2.45 -2.45zM669.5 417.65l2.45 2.45l-2.45 2.45l-2.45 -2.45zM671.5 417.25l2.45 2.45l-2.45 2.45l-2.45 -2.45zM665.2 426.35l2.45 2.45l-2.45 2.45l-2.45 -2.45zM665.7 428.55l2.45 2.45l-2.45 2.45l-2.45 -2.45zM671.5 427.95l2.45 2.45l-2.45 2.45l-2.45 -2.45zM670.3 430.15l2.45 2.45l-2.45 2.45l-2.45 -2.45zM663.2 445.15l2.45 2.45l-2.45 2.45l-2.45 -2.45zM663.7 507.65l2.45 2.45l-2.45 2.45l-2.45 -2.45zM666.8 507.25l2.45 2.45l-2.45 2.45l-2.45 -2.45zM672.3 508.15l2.45 2.45l-2.45 2.45l-2.45 -2.45zM665.7 513.85l2.45 2.45l-2.45 2.45l-2.45 -2.45zM664.3 518.95l2.45 2.45l-2.45 2.45l-2.45 -2.45zM666 520.95l2.45 2.45l-2.45 2.45l-2.45 -2.45zM668.2 522.95l2.45 2.45l-2.45 2.45l-2.45 -2.45zM660.3 525.65l2.45 2.45l-2.45 2.45l-2.45 -2.45zM664 528.55l2.45 2.45l-2.45 2.45l-2.45 -2.45zM667.3 528.05l2.45 2.45l-2.45 2.45l-2.45 -2.45zM732.6 384.15l2.45 2.45l-2.45 2.45l-2.45 -2.45zM730.6 391.65l2.45 2.45l-2.45 2.45l-2.45 -2.45zM728.1 393.85l2.45 2.45l-2.45 2.45l-2.45 -2.45zM734.7 395.85l2.45 2.45l-2.45 2.45l-2.45 -2.45zM731.4 397.95l2.45 2.45l-2.45 2.45l-2.45 -2.45zM732.7 416.15l2.45 2.45l-2.45 2.45l-2.45 -2.45zM738.4 449.95l2.45 2.45l-2.45 2.45l-2.45 -2.45zM727.3 466.15l2.45 2.45l-2.45 2.45l-2.45 -2.45zM730.9 485.05l2.45 2.45l-2.45 2.45l-2.45 -2.45zM733.4 506.65l2.45 2.45l-2.45 2.45l-2.45 -2.45zM740.1 506.65l2.45 2.45l-2.45 2.45l-2.45 -2.45zM733.6 513.25l2.45 2.45l-2.45 2.45l-2.45 -2.45zM730.2 514.95l2.45 2.45l-2.45 2.45l-2.45 -2.45zM739.7 515.75l2.45 2.45l-2.45 2.45l-2.45 -2.45zM734.7 516.95l2.45 2.45l-2.45 2.45l-2.45 -2.45zM731.1 519.95l2.45 2.45l-2.45 2.45l-2.45 -2.45zM741.1 519.95l2.45 2.45l-2.45 2.45l-2.45 -2.45zM732.2 521.95l2.45 2.45l-2.45 2.45l-2.45 -2.45zM738.1 522.45l2.45 2.45l-2.45 2.45l-2.45 -2.45zM729.7 523.65l2.45 2.45l-2.45 2.45l-2.45 -2.45zM733.6 524.65l2.45 2.45l-2.45 2.45l-2.45 -2.45zM731.1 532.05l2.45 2.45l-2.45 2.45l-2.45 -2.45zM734.4 532.75l2.45 2.45l-2.45 2.45l-2.45 -2.45z" fill="#000"/>
<path d="M426.6 307.5V584.25H768" stroke="#000" stroke-width="1.2" fill="none" stroke-linecap="square"/>
<path d="M426.6 563.2h5M426.6 520.7h5M426.6 478.2h5M426.6 435.7h5M426.6 393.2h5M426.6 350.6h5M426.6 308.1h5M460.6 584.25v-5.3M529.1 584.25v-5.3M597.5 584.25v-5.3M666 584.25v-5.3M734.4 584.25v-5.3" stroke="#000" stroke-width="1.2" fill="none"/>
<text x="420" y="567.2" text-anchor="end" class="t">0</text>
<text x="420" y="524.7" text-anchor="end" class="t">10</text>
<text x="420" y="482.2" text-anchor="end" class="t">20</text>
<text x="420" y="439.7" text-anchor="end" class="t">30</text>
<text x="420" y="397.2" text-anchor="end" class="t">40</text>
<text x="420" y="354.6" text-anchor="end" class="t">50</text>
<text x="420" y="312.1" text-anchor="end" class="t">60</text>
<text x="460.3" y="600.45" text-anchor="middle" class="t">CK</text>
<text x="528.8" y="600.45" text-anchor="middle" class="t">DF1</text>
<text x="597.2" y="600.45" text-anchor="middle" class="t">DF2</text>
<text x="665.7" y="600.45" text-anchor="middle" class="t">DF3</text>
<text x="734.1" y="600.45" text-anchor="middle" class="t">DF4</text>
<text x="461.4" y="392.3" text-anchor="middle" class="L">AB</text>
<text x="531.7" y="400.3" text-anchor="middle" class="L">AB</text>
<text x="597.2" y="415.7" text-anchor="middle" class="L">B</text>
<text x="666" y="404.2" text-anchor="middle" class="L">A</text>
<text x="734.4" y="377.8" text-anchor="middle" class="L">A</text>
<rect x="445.5" y="320.3" width="27.8" height="13.9" fill="#EDF5ED" stroke="#1c1c1c" stroke-width="1.25"/>
<text x="477.3" y="331.1">CK</text>
<rect x="495.4" y="320.3" width="27.8" height="13.9" fill="#F5EAEC" stroke="#1c1c1c" stroke-width="1.25"/>
<text x="527.2" y="331.1">DF1</text>
<rect x="551.1" y="320.3" width="27.8" height="13.9" fill="#228B22" stroke="#1c1c1c" stroke-width="1.25"/>
<text x="582.9" y="331.1">DF2</text>
<rect x="606.3" y="320.3" width="27.8" height="13.9" fill="#FFA54F" stroke="#1c1c1c" stroke-width="1.25"/>
<text x="638.1" y="331.1">DF3</text>
<rect x="661.8" y="320.3" width="27.8" height="13.9" fill="#8B3A2B" stroke="#1c1c1c" stroke-width="1.25"/>
<text x="693.6" y="331.1">DF4</text>
<text x="733.7" y="331.1" >10-20cm</text>
<text transform="translate(398,445.8) rotate(-90)" text-anchor="middle" style="font-size:14.5px">NO<tspan font-size="8.7" dy="3.2">3</tspan><tspan font-size="8.7" dy="-9.2">-</tspan><tspan dy="6">-N(mg·kg</tspan><tspan font-size="8.7" dy="-6">-1</tspan><tspan dy="6">)</tspan></text></g>
</svg>
</body>
</html>
